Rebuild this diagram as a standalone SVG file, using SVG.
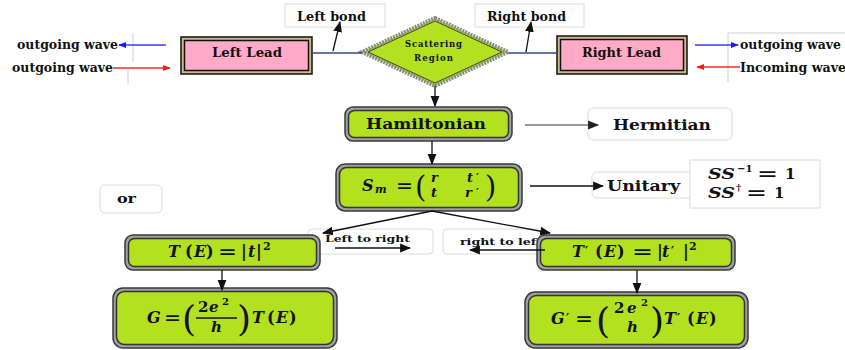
<svg xmlns="http://www.w3.org/2000/svg" width="845" height="350" viewBox="0 0 845 350">
<defs>
<style>
.t{font-family:"DejaVu Serif","Liberation Serif",serif;font-weight:bold;fill:#111}
.m{font-family:"DejaVu Serif","Liberation Serif",serif;font-weight:bold;font-style:italic;fill:#111}
.n{font-style:normal}
.p{font-family:"DejaVu Serif","Liberation Serif",serif;font-weight:normal;font-style:normal;fill:#111}
.frameO{fill:#a0a0a0;stroke:#3a3a3a;stroke-width:1.5}
.frameI{fill:#B3E11F;stroke:#333;stroke-width:1.5}
.leadO{fill:#cdbb8f;stroke:#111;stroke-width:1.5}
.leadI{fill:#FFAAC6;stroke:#111;stroke-width:1.5}
.lbl{fill:#fff;stroke:#dcdcdc;stroke-width:1}
.c{fill:none;stroke:#111;stroke-width:1.3}
</style>
<marker id="abig" viewBox="0 0 10 10" refX="9" refY="5" markerWidth="11" markerHeight="11" orient="auto" markerUnits="userSpaceOnUse"><path d="M0,1 L10,5 L0,9 z" fill="#111"/></marker>
<marker id="ag" viewBox="0 0 10 10" refX="9" refY="5" markerWidth="11" markerHeight="11" orient="auto" markerUnits="userSpaceOnUse"><path d="M0,1 L10,5 L0,9 z" fill="#222"/></marker>
<marker id="abl" viewBox="0 0 10 10" refX="9" refY="5" markerWidth="8" markerHeight="8" orient="auto" markerUnits="userSpaceOnUse"><path d="M0,1 L10,5 L0,9 z" fill="#1a1aff"/></marker>
<marker id="ar" viewBox="0 0 10 10" refX="9" refY="5" markerWidth="8" markerHeight="8" orient="auto" markerUnits="userSpaceOnUse"><path d="M0,1 L10,5 L0,9 z" fill="#ff1a1a"/></marker>
</defs>
<rect width="845" height="350" fill="#fff"/>

<g id="guides" stroke="#d0d0d0" stroke-width="1">
<line x1="133" y1="33" x2="133" y2="62"/>
<line x1="128" y1="70" x2="128" y2="84"/>
<line x1="728" y1="33" x2="728" y2="82"/>
<line x1="728" y1="33" x2="845" y2="33"/>
</g>

<g id="wave-labels">
<text class="t" x="17" y="49" font-size="12" textLength="101" lengthAdjust="spacingAndGlyphs">outgoing wave</text>
<text class="t" x="12" y="72" font-size="12" textLength="101" lengthAdjust="spacingAndGlyphs">outgoing wave</text>
<text class="t" x="740" y="49" font-size="12" textLength="101" lengthAdjust="spacingAndGlyphs">outgoing wave</text>
<text class="t" x="740" y="72" font-size="12" textLength="106" lengthAdjust="spacingAndGlyphs">Incoming wave</text>
</g>

<g id="left-bond">
<rect class="lbl" x="285" y="4" width="100" height="23"/>
<text class="t" x="297" y="21" font-size="12" textLength="69" lengthAdjust="spacingAndGlyphs">Left bond</text>
</g>
<g id="right-bond">
<rect class="lbl" x="475" y="4" width="109" height="23"/>
<text class="t" x="487" y="21" font-size="12" textLength="79" lengthAdjust="spacingAndGlyphs">Right bond</text>
</g>

<g id="left-lead">
<rect class="leadO" x="181" y="37" width="131" height="37"/>
<rect class="leadI" x="184.5" y="40.5" width="124" height="30"/>
<text class="t" x="212" y="57" font-size="13" textLength="70" lengthAdjust="spacingAndGlyphs">Left Lead</text>
</g>
<g id="right-lead">
<rect class="leadO" x="557" y="36" width="130" height="38"/>
<rect class="leadI" x="560.5" y="39.5" width="123" height="31"/>
<text class="t" x="582" y="57" font-size="13" textLength="79" lengthAdjust="spacingAndGlyphs">Right Lead</text>
</g>

<g id="scattering-region">
<polygon points="435,18 508,52 435,86 362,52" fill="#B3E11F" stroke="#8a8a8a" stroke-width="4" stroke-dasharray="2 1"/>
<polygon points="435,21 502,52 435,83 368,52" fill="#B3E11F" stroke="#444" stroke-width="1"/>
<text class="t" x="405" y="47" font-size="8.5" textLength="57" lengthAdjust="spacing">Scattering</text>
<text class="t" x="414" y="61" font-size="8.5" textLength="39" lengthAdjust="spacing">Region</text>
</g>

<g id="hamiltonian">
<rect class="frameO" x="345" y="107" width="167" height="34" rx="8"/>
<rect class="frameI" x="348.5" y="110.5" width="160" height="27" rx="6"/>
<text class="t" x="366" y="129" font-size="15" textLength="120" lengthAdjust="spacingAndGlyphs">Hamiltonian</text>
</g>

<g id="hermitian">
<rect class="lbl" x="588" y="108" width="144" height="32" rx="5"/>
<text class="t" x="613" y="130" font-size="15" textLength="98" lengthAdjust="spacingAndGlyphs">Hermitian</text>
</g>

<g id="s-matrix">
<rect class="frameO" x="336" y="164" width="186" height="47" rx="9"/>
<rect class="frameI" x="339.5" y="167.5" width="179" height="40" rx="7"/>
<text class="m" x="362" y="191" font-size="16">S</text>
<text class="m" x="375" y="193" font-size="11">m</text>
<text class="t" x="396" y="191" font-size="17" textLength="17" lengthAdjust="spacingAndGlyphs">=</text>
<text class="p" x="415" y="197" font-size="29">(</text>
<text class="m" x="431" y="182" font-size="13">r</text>
<text class="m" x="467" y="182" font-size="13">t</text>
<text class="t" x="476" y="181" font-size="11">′</text>
<text class="m" x="431" y="197" font-size="13">t</text>
<text class="m" x="465" y="197" font-size="13">r</text>
<text class="t" x="476" y="196" font-size="11">′</text>
<text class="p" x="485" y="197" font-size="29">)</text>
</g>

<g id="unitary">
<rect class="lbl" x="592" y="172" width="110" height="26" rx="5"/>
<text class="t" x="607" y="191" font-size="15" textLength="73" lengthAdjust="spacingAndGlyphs">Unitary</text>
</g>
<g id="unitary-conditions">
<rect class="lbl" x="690" y="160" width="130" height="48"/>
<text class="m" x="708" y="179" font-size="15" textLength="27" lengthAdjust="spacingAndGlyphs">SS</text>
<text class="t" x="737" y="172" font-size="10">−1</text>
<text class="t" x="757" y="179" font-size="17" textLength="21" lengthAdjust="spacingAndGlyphs">=</text>
<text class="t" x="785" y="179" font-size="15">1</text>
<text class="m" x="708" y="198" font-size="15" textLength="27" lengthAdjust="spacingAndGlyphs">SS</text>
<text class="t" x="736" y="191" font-size="10">†</text>
<text class="t" x="746" y="198" font-size="17" textLength="21" lengthAdjust="spacingAndGlyphs">=</text>
<text class="t" x="774" y="198" font-size="15">1</text>
</g>

<g id="or">
<rect class="lbl" x="100" y="185" width="62" height="28" rx="5"/>
<text class="t" x="117" y="203" font-size="13" textLength="19" lengthAdjust="spacingAndGlyphs">or</text>
</g>

<g id="left-to-right">
<rect class="lbl" x="308" y="229" width="125" height="25" rx="4"/>
<text class="t" x="325" y="242" font-size="9.5" textLength="85" lengthAdjust="spacingAndGlyphs">Left to right</text>
</g>
<g id="right-to-left">
<rect class="lbl" x="443" y="229" width="102" height="25" rx="4"/>
<text class="t" x="460" y="245" font-size="9.5" textLength="82" lengthAdjust="spacingAndGlyphs">right to left</text>
</g>

<g id="transmission-left">
<rect class="frameO" x="125" y="235" width="195" height="35" rx="8"/>
<rect class="frameI" x="128.5" y="238.5" width="188" height="28" rx="6"/>
<text class="m" y="257" font-size="16"><tspan x="168">T</tspan><tspan class="n" x="185">(</tspan><tspan x="194">E</tspan><tspan class="n" x="206">)</tspan></text>
<text class="t" x="218" y="257" font-size="17" textLength="19" lengthAdjust="spacingAndGlyphs">=</text>
<text class="m" y="257" font-size="16"><tspan class="n" x="241">|</tspan><tspan x="248">t</tspan><tspan class="n" x="256">|</tspan></text>
<text class="t" x="263" y="250" font-size="11">2</text>
</g>

<g id="transmission-right">
<rect class="frameO" x="537" y="235" width="198" height="35" rx="8"/>
<rect class="frameI" x="540.5" y="238.5" width="191" height="28" rx="6"/>
<text class="m" y="257" font-size="16"><tspan x="572">T</tspan><tspan class="n" x="595">(</tspan><tspan x="604">E</tspan><tspan class="n" x="617">)</tspan></text>
<text class="t" x="585" y="256" font-size="12">′</text>
<text class="t" x="632" y="257" font-size="17" textLength="21" lengthAdjust="spacingAndGlyphs">=</text>
<text class="m" y="257" font-size="16"><tspan class="n" x="657">|</tspan><tspan x="662">t</tspan><tspan class="n" x="683">|</tspan></text>
<text class="t" x="671" y="256" font-size="12">′</text>
<text class="t" x="689" y="250" font-size="11">2</text>
</g>

<g id="conductance-left">
<rect class="frameO" x="113" y="288" width="224" height="60" rx="10"/>
<rect class="frameI" x="116.5" y="291.5" width="217" height="53" rx="8"/>
<text class="m" x="147" y="323" font-size="16">G</text>
<text class="t" x="164" y="323" font-size="17" textLength="17" lengthAdjust="spacingAndGlyphs">=</text>
<text class="p" x="182" y="331" font-size="36">(</text>
<text class="t" x="198" y="312" font-size="15">2</text>
<text class="m" x="209" y="312" font-size="15">e</text>
<text class="t" x="222" y="305" font-size="10">2</text>
<line x1="196" y1="318" x2="237" y2="318" stroke="#111" stroke-width="1.3"/>
<text class="m" x="211" y="332" font-size="15">h</text>
<text class="p" x="237" y="331" font-size="36">)</text>
<text class="m" y="323" font-size="16"><tspan x="252">T</tspan><tspan class="n" x="267">(</tspan><tspan x="276">E</tspan><tspan class="n" x="289">)</tspan></text>
</g>

<g id="conductance-right">
<rect class="frameO" x="525" y="292" width="223" height="56" rx="10"/>
<rect class="frameI" x="528.5" y="295.5" width="216" height="49" rx="8"/>
<text class="m" x="551" y="324" font-size="16">G</text>
<text class="t" x="566" y="323" font-size="12">′</text>
<text class="t" x="575" y="324" font-size="17" textLength="18" lengthAdjust="spacingAndGlyphs">=</text>
<text class="p" x="596" y="333" font-size="36">(</text>
<text class="t" x="614" y="313" font-size="15">2</text>
<text class="m" x="627" y="313" font-size="15">e</text>
<text class="t" x="641" y="306" font-size="10">2</text>
<text class="m" x="627" y="332" font-size="15">h</text>
<text class="p" x="650" y="333" font-size="36">)</text>
<text class="m" y="324" font-size="16"><tspan x="664">T</tspan><tspan class="n" x="687">(</tspan><tspan x="696">E</tspan><tspan class="n" x="709">)</tspan></text>
<text class="t" x="677" y="323" font-size="12">′</text>
</g>

<g id="connectors">
<line x1="312" y1="53" x2="362" y2="53" stroke="#2e4a86" stroke-width="1.5"/>
<line x1="508" y1="53" x2="557" y2="53" stroke="#2e4a86" stroke-width="1.5"/>
<line x1="333" y1="51" x2="340" y2="22" class="c" marker-end="url(#abig)"/>
<line x1="526" y1="52" x2="531" y2="22" class="c" marker-end="url(#abig)"/>
<line x1="166" y1="45" x2="119" y2="45" stroke="#3a3aff" stroke-width="1.3" marker-end="url(#abl)"/>
<line x1="113" y1="68" x2="170" y2="68" stroke="#ff2a2a" stroke-width="1.3" marker-end="url(#ar)"/>
<line x1="695" y1="45" x2="738" y2="45" stroke="#3a3aff" stroke-width="1.3" marker-end="url(#abl)"/>
<line x1="740" y1="67" x2="697" y2="67" stroke="#ff2a2a" stroke-width="1.3" marker-end="url(#ar)"/>
<line x1="435" y1="86" x2="435" y2="106" class="c" marker-end="url(#abig)"/>
<line x1="432" y1="141" x2="432" y2="164" class="c" marker-end="url(#abig)"/>
<line x1="525" y1="125" x2="598" y2="125" stroke="#777" stroke-width="1.6" marker-end="url(#ag)"/>
<line x1="530" y1="186" x2="603" y2="186" stroke="#111" stroke-width="1.6" marker-end="url(#abig)"/>
<line x1="432" y1="211" x2="323" y2="233" class="c" marker-end="url(#abig)"/>
<line x1="432" y1="211" x2="550" y2="233" class="c" marker-end="url(#abig)"/>
<line x1="335" y1="248" x2="410" y2="248" class="c" stroke-width="1.6" marker-end="url(#abig)"/>
<line x1="545" y1="250" x2="470" y2="250" class="c" stroke-width="1.6" marker-end="url(#abig)"/>
<line x1="222" y1="270" x2="222" y2="290" class="c" marker-end="url(#abig)"/>
<line x1="637" y1="270" x2="637" y2="293" class="c" marker-end="url(#abig)"/>
</g>
</svg>
